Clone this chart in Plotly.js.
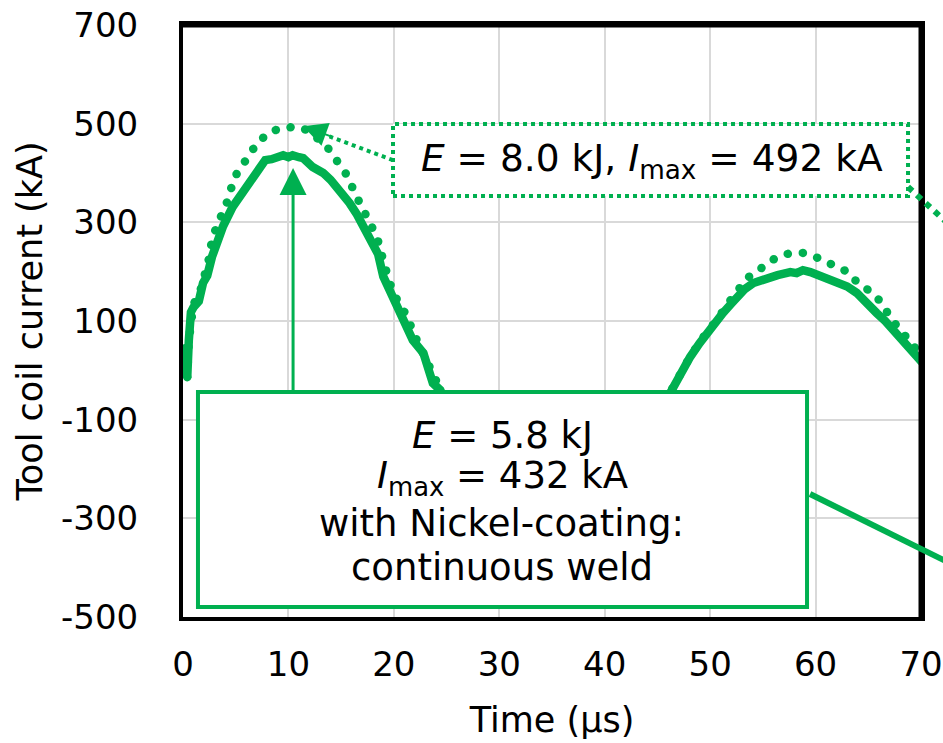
<!DOCTYPE html>
<html>
<head>
<meta charset="utf-8">
<script src="https://cdn.plot.ly/plotly-3.0.1.min.js"></script>
<style>
  html, body { margin: 0; padding: 0; background: #ffffff; }
  #chart { width: 943px; height: 743px; }
</style>
</head>
<body>
<div id="chart"></div>
<script>
// ---- Data ----
// Series 1: E = 5.8 kJ, with Nickel-coating (solid line)
const timeSolid = [0.2, 0.4, 0.55, 0.75, 1.0, 1.5, 1.9, 2.3, 2.75, 3.2, 3.8, 4.7, 5.6, 6.5, 7.3, 7.8, 8.4, 8.9, 9.5, 10.0, 10.4, 11.0, 11.4, 12.3, 13.3, 14.0, 14.6, 15.2, 15.8, 16.5, 17.1, 17.8, 18.5, 19.0, 19.6, 20.3, 21.0, 21.8, 22.8, 23.7, 24.4,
  25.0, 26.0, 28.0, 30.0, 32.0, 34.0, 35.5, 37.0, 39.0, 41.0, 43.0, 44.5, 45.5,
  46.5, 47.3, 48.1, 49.0, 49.7, 50.5, 51.2, 52.0, 52.6, 53.3, 54.1, 55.2, 56.4, 57.0, 57.6, 58.2, 58.8, 59.5, 60.2, 61.0, 62.0, 63.0, 63.9, 64.8, 65.8, 66.6, 67.4, 68.5, 69.9, 71.0];
const currentSolid = [45, -15, 60, 118, 128, 140, 177, 192, 230, 258, 292, 331, 359, 388, 412, 426, 428, 430, 436, 432, 436, 432, 430, 412, 400, 386, 372, 356, 339, 316, 291, 262, 236, 190, 162, 128, 100, 61, 35, -26, -40,
  -70, -120, -200, -260, -300, -318, -322, -315, -290, -240, -170, -110, -70,
  -34, 1, 27, 55, 76, 95, 116, 135, 149, 165, 177, 186, 193, 196, 199, 197, 203, 199, 193, 187, 179, 170, 157, 140, 116, 100, 82, 58, 21, -5];

// Series 2: E = 8.0 kJ (dotted line)
const timeDotted = [0.2, 0.4, 0.55, 0.75, 1.0, 1.5, 2.0, 2.4, 2.75, 3.3, 4.0, 4.5, 4.9, 5.4, 6.2, 7.1, 8.4, 9.9, 11.4, 12.6, 13.8, 14.7, 15.6, 16.3, 17.0, 17.7, 18.4, 18.9, 19.6, 20.3, 21.3, 21.8, 22.5, 23.7, 24.5,
  26.0, 28.0, 30.0, 32.0, 34.0, 36.0, 38.0, 40.0, 42.0, 44.0, 45.5,
  46.5, 47.3, 48.1, 49.7, 50.7, 51.5, 52.6, 53.5, 54.6, 55.9, 57.3, 58.8, 60.2, 61.7, 63.1, 64.0, 65.4, 66.3, 67.1, 68.5, 70.0, 71.0];
const currentDotted = [45, -15, 60, 120, 135, 150, 185, 220, 264, 299, 329, 359, 392, 408, 436, 463, 485, 493, 491, 473, 449, 420, 394, 359, 331, 303, 270, 230, 177, 143, 108, 78, 47, -14, -50,
  -110, -210, -290, -340, -362, -360, -340, -290, -215, -130, -70,
  -30, 0, 28, 78, 103, 130, 160, 187, 203, 224, 236, 238, 228, 214, 199, 177, 157, 136, 106, 70, 30, 5];

const xTickVals = [0, 10, 20, 30, 40, 50, 60, 70];
const yTickVals = [-500, -300, -100, 100, 300, 500, 700];

// ---- Styling ----
const GREEN = '#00B050';
const FONT = 'DejaVu Sans, Verdana, sans-serif';

const traces = [
  {
    x: timeDotted, y: currentDotted, type: 'scatter', mode: 'lines',
    line: { color: GREEN, width: 8.5, dash: 'dot' },
    hoverinfo: 'skip', name: 'E = 8.0 kJ'
  },
  {
    x: timeSolid, y: currentSolid, type: 'scatter', mode: 'lines',
    line: { color: GREEN, width: 8.5 },
    hoverinfo: 'skip', name: 'E = 5.8 kJ'
  }
];

// pixel -> paper helpers (plot area: x 183..921, y 25..617)
const L = 183, R = 921, T = 25, B = 617;
const px = v => (v - L) / (R - L);
const py = v => (B - v) / (B - T);

const layout = {
  width: 943, height: 743,
  margin: { l: L, r: 943 - R, t: T, b: 743 - B, pad: 0 },
  paper_bgcolor: '#ffffff', plot_bgcolor: '#ffffff',
  showlegend: false,
  font: { family: FONT, color: '#000000', size: 34 },
  xaxis: {
    range: [0, 70], tickvals: xTickVals, ticktext: xTickVals.map(String),
    showgrid: true, gridcolor: '#d9d9d9', gridwidth: 2,
    zeroline: false, showline: true, linecolor: '#000000', linewidth: 4, mirror: true,
    ticks: 'outside', ticklen: 14, tickcolor: 'rgba(0,0,0,0)',
    tickfont: { family: FONT, size: 34, color: '#000000' },
    title: { text: 'Time (µs)', font: { family: FONT, size: 35, color: '#000000' }, standoff: 26 }
  },
  yaxis: {
    range: [-500, 700], tickvals: yTickVals, ticktext: yTickVals.map(String),
    showgrid: true, gridcolor: '#d9d9d9', gridwidth: 2,
    zeroline: false, showline: true, linecolor: '#000000', linewidth: 4, mirror: true,
    ticks: 'outside', ticklen: 34, tickcolor: 'rgba(0,0,0,0)',
    tickfont: { family: FONT, size: 34, color: '#000000' },
    title: { text: 'Tool coil current (kA)', font: { family: FONT, size: 35, color: '#000000' }, standoff: 9 }
  },
  shapes: [
    // thicker top/right frame
    { type: 'line', xref: 'paper', yref: 'paper', x0: 0, x1: 1, y0: 1, y1: 1, line: { color: '#000', width: 5 }, layer: 'above' },
    { type: 'line', xref: 'paper', yref: 'paper', x0: 1, x1: 1, y0: 0, y1: 1, line: { color: '#000', width: 5 }, layer: 'above' },
    // dotted box (8.0 kJ)
    { type: 'rect', xref: 'x', yref: 'y', x0: 19.92, x1: 68.77, y0: 353.4, y1: 499.3,
      fillcolor: '#ffffff', line: { color: GREEN, width: 4, dash: 'dot' }, layer: 'above' },
    // dotted leader from box to arrowhead
    { type: 'line', xref: 'x', yref: 'y', x0: 19.92, y0: 426, x1: 13.9, y1: 474,
      line: { color: GREEN, width: 4, dash: 'dot' }, layer: 'above' },
    // dotted connector leaving the plot to the right
    { type: 'line', xref: 'paper', yref: 'paper', x0: px(908), y0: py(187), x1: px(990), y1: py(262),
      line: { color: GREEN, width: 6, dash: 'dot' }, layer: 'above' },
    // solid box (5.8 kJ)
    { type: 'rect', xref: 'x', yref: 'y', x0: 1.42, x1: 59.19, y0: -479.7, y1: -43.9,
      fillcolor: '#ffffff', line: { color: GREEN, width: 4 }, layer: 'above' },
    // solid connector leaving the plot to the right
    { type: 'line', xref: 'paper', yref: 'paper', x0: px(810), y0: py(494), x1: px(990), y1: py(583),
      line: { color: GREEN, width: 6 }, layer: 'above' }
  ],
  annotations: [
    // solid arrow up to first peak
    { x: 10.44, y: 410, xref: 'x', yref: 'y', axref: 'x', ayref: 'y', ax: 10.44, ay: -44,
      text: '', showarrow: true, arrowhead: 2, arrowsize: 1.8, arrowwidth: 3, arrowcolor: GREEN, standoff: 0 },
    // dotted arrow head near dotted peak
    { x: 11.39, y: 495, xref: 'x', yref: 'y', ax: 30, ay: 11,
      text: '', showarrow: true, arrowhead: 2, arrowsize: 2.4, arrowwidth: 2, arrowcolor: GREEN, standoff: 0 },
    // dotted box text
    { x: px(652), y: py(160), xref: 'paper', yref: 'paper', xanchor: 'center', yanchor: 'middle', showarrow: false,
      text: '<i>E</i> = 8.0 kJ, <i>I</i><sub>max</sub> = 492 kA', font: { family: FONT, size: 37.5, color: '#000' } },
    // solid box text lines
    { x: px(502), y: py(435), xref: 'paper', yref: 'paper', xanchor: 'center', yanchor: 'middle', showarrow: false,
      text: '<i>E</i> = 5.8 kJ', font: { family: FONT, size: 37, color: '#000' } },
    { x: px(502), y: py(478), xref: 'paper', yref: 'paper', xanchor: 'center', yanchor: 'middle', showarrow: false,
      text: '<i>I</i><sub>max</sub> = 432 kA', font: { family: FONT, size: 37, color: '#000' } },
    { x: px(501), y: py(523), xref: 'paper', yref: 'paper', xanchor: 'center', yanchor: 'middle', showarrow: false,
      text: 'with Nickel-coating:', font: { family: FONT, size: 37, color: '#000' } },
    { x: px(502), y: py(567), xref: 'paper', yref: 'paper', xanchor: 'center', yanchor: 'middle', showarrow: false,
      text: 'continuous weld', font: { family: FONT, size: 37, color: '#000' } }
  ]
};

Plotly.newPlot('chart', traces, layout, { staticPlot: true, displayModeBar: false }).then(function (gd) {
  // make the dotted series round dots like the original
  const tr = gd.querySelectorAll('.scatterlayer .trace');
  if (tr.length) {
    const p = tr[0].querySelector('path.js-line');
    if (p) {
      p.style.strokeDasharray = '0.1px, 15px';
      p.style.strokeLinecap = 'round';
    }
  }
});
</script>
</body>
</html>
